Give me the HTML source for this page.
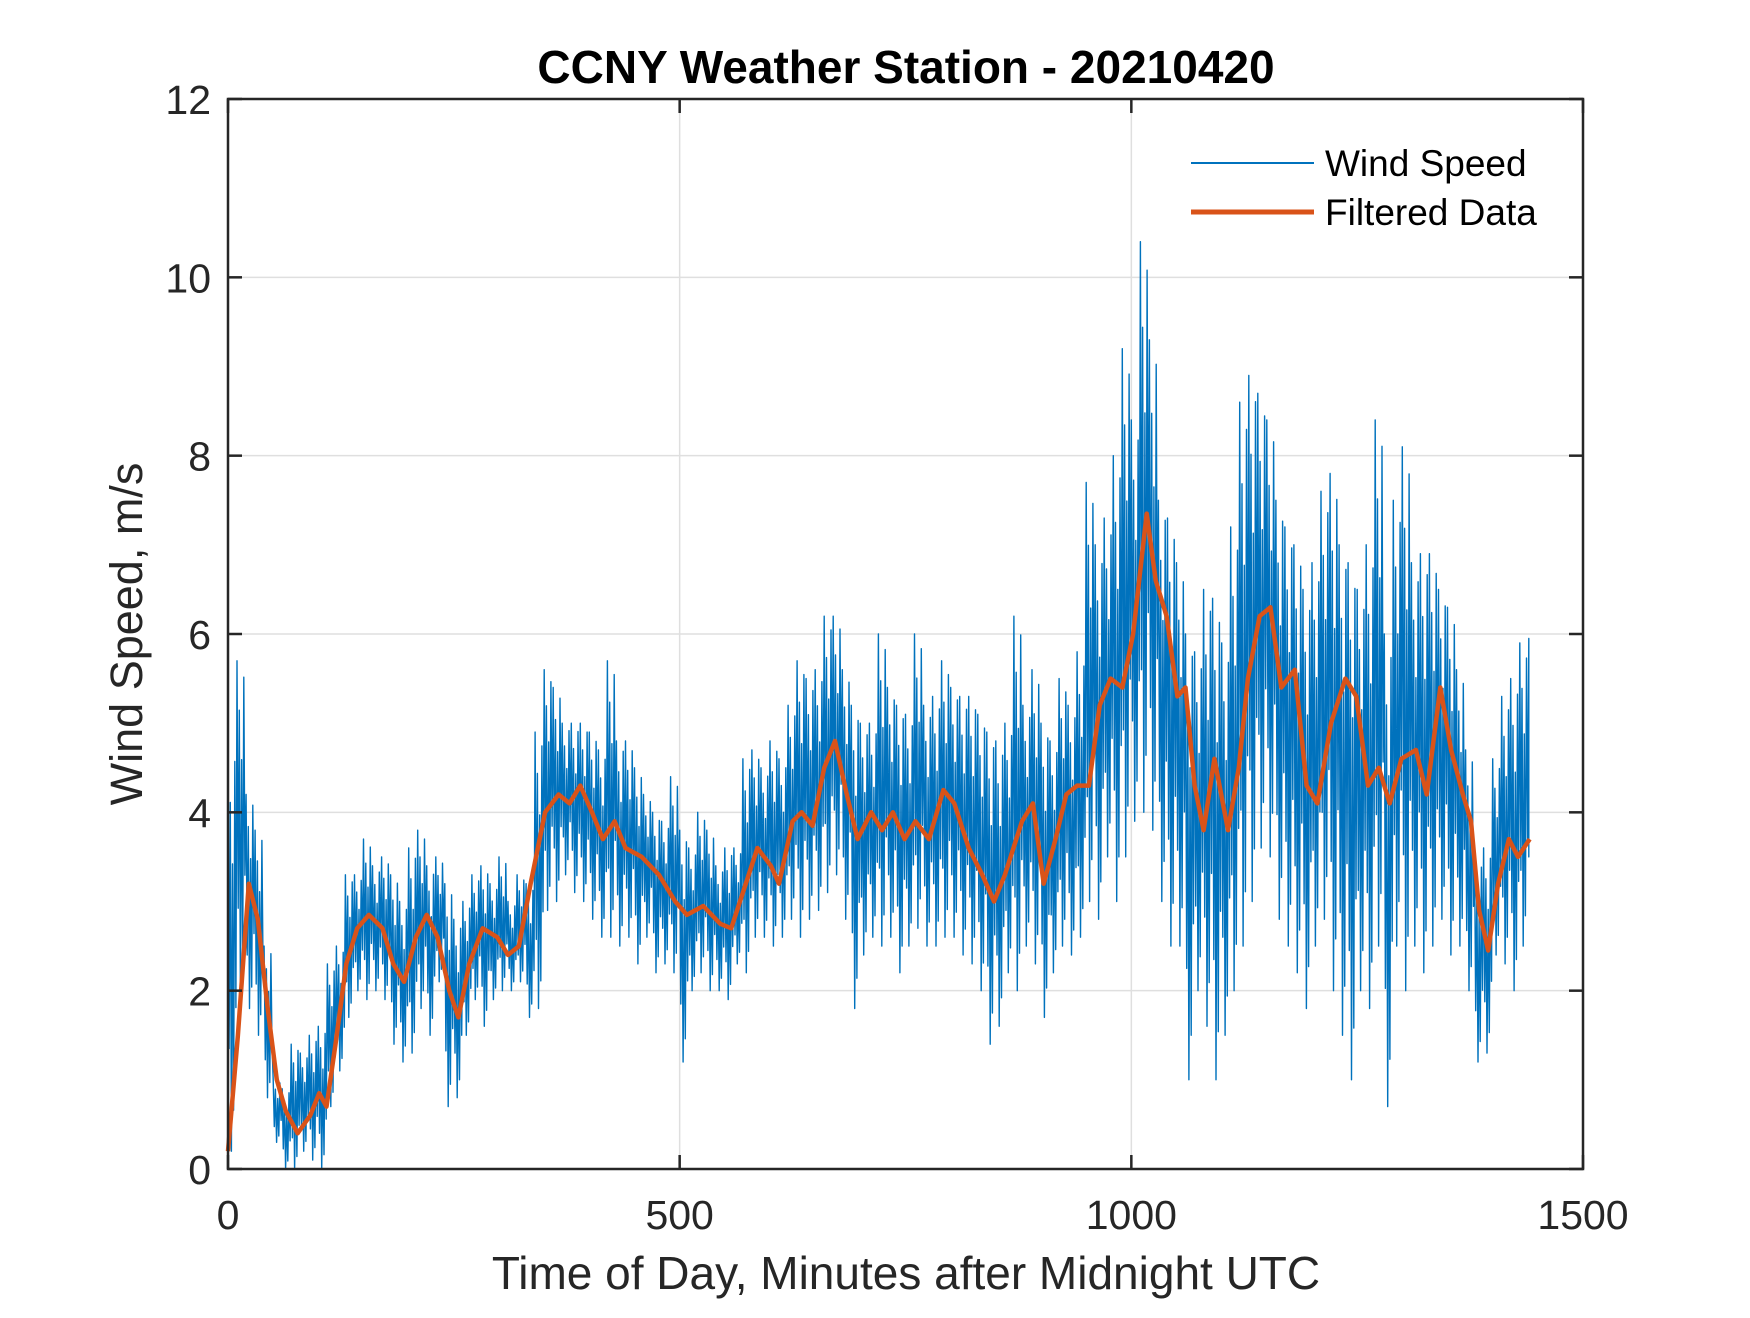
<!DOCTYPE html>
<html><head><meta charset="utf-8"><style>
body{margin:0;background:#fff}
svg text{font-family:"Liberation Sans",Arial,sans-serif;fill:#262626}
</style></head><body>
<svg id="chart" width="1750" height="1313" xmlns="http://www.w3.org/2000/svg">
<rect width="1750" height="1313" fill="#fff"/>
<g id="grid"></g>
<g id="series"></g>
<g id="axes"></g>
<text x="906" y="83" text-anchor="middle" font-size="46" font-weight="bold" style="fill:#000">CCNY Weather Station - 20210420</text>
<text x="906" y="1289" text-anchor="middle" font-size="46">Time of Day, Minutes after Midnight UTC</text>
<text transform="translate(142,634) rotate(-90)" text-anchor="middle" font-size="45">Wind Speed, m/s</text>
<g>
<line x1="1191" y1="163" x2="1314" y2="163" stroke="#0072BD" stroke-width="2"/>
<text x="1325" y="176" font-size="37" style="fill:#000">Wind Speed</text>
<line x1="1191" y1="212" x2="1314" y2="212" stroke="#D95319" stroke-width="5"/>
<text x="1325" y="225" font-size="37" style="fill:#000">Filtered Data</text>
</g>
</svg>
<script>
const xTicks=[0,500,1000,1500];
const yTicks=[0,2,4,6,8,10,12];
const windHi=[4.8,5.7,4.2,3.8,2.5,1.0,0.9,1.4,1.3,1.5,1.6,2.3,2.5,3.3,3.3,3.7,3.4,3.5,3.3,3.0,3.6,3.8,3.4,3.5,3.2,2.8,3.0,3.3,3.4,3.2,3.5,3.0,3.3,3.2,4.9,5.6,5.4,5.0,5.0,5.0,4.9,4.7,5.7,4.8,4.8,4.5,4.2,4.0,3.9,4.4,3.8,3.6,4.0,3.8,3.4,3.6,3.6,4.6,4.7,4.5,4.8,4.6,5.2,5.7,5.5,5.6,6.2,6.2,5.6,5.2,5.0,5.0,6.0,5.4,5.2,5.1,6.0,5.2,5.3,5.7,5.4,5.3,5.3,5.1,4.9,4.8,5.0,6.2,5.2,5.6,5.0,4.8,5.5,5.2,5.8,7.7,7.0,7.3,8.0,9.2,8.4,10.4,9.3,7.5,7.3,6.8,6.0,5.8,6.5,6.4,5.9,7.2,8.6,8.9,8.7,8.4,7.5,7.2,7.0,6.5,6.8,7.6,7.8,7.0,6.8,6.5,7.0,8.4,6.0,7.5,8.1,6.8,6.9,6.9,6.5,6.3,5.6,4.7,3.5,3.6,4.6,5.3,5.5,5.9,5.95];
const windLo=[0.2,2.0,1.8,1.5,0.8,0.3,0.0,0.0,0.2,0.1,0.0,0.7,1.1,1.7,2.0,1.9,2.0,1.9,1.4,1.2,1.3,1.8,1.5,2.1,0.7,0.8,1.5,1.9,1.6,1.9,2.0,2.0,2.1,1.7,1.8,2.9,3.0,3.3,3.1,3.0,2.8,2.6,2.6,2.5,2.6,2.3,2.6,2.2,2.3,2.2,1.2,2.0,2.2,2.0,2.0,1.9,2.3,2.2,2.6,2.6,2.5,2.6,2.8,2.6,2.8,2.9,3.1,3.3,2.8,1.8,2.4,2.6,2.5,2.6,2.2,2.5,2.7,2.5,2.5,2.6,2.6,2.4,2.3,2.0,1.4,1.6,2.2,2.0,2.5,2.3,1.7,2.2,2.5,2.4,2.6,3.0,2.8,3.5,3.0,3.5,3.9,4.0,3.8,3.0,2.5,2.5,1.0,2.0,1.6,1.0,1.5,2.0,2.5,3.0,3.6,3.5,2.8,2.5,2.2,1.8,2.5,2.8,2.0,1.5,1.0,2.0,1.8,2.5,0.7,2.5,2.0,2.5,2.2,2.5,2.8,2.4,2.5,2.0,1.2,1.3,2.4,2.3,2.0,2.5,3.5];
const filtT=[0,11,23,33,44,54,64,77,91,101,109,119,131,143,156,171,183,195,208,220,232,245,255,267,282,298,310,322,335,351,366,378,390,403,415,428,440,458,477,495,508,526,545,557,570,586,601,610,625,635,647,660,672,685,697,712,724,736,749,761,776,792,804,820,835,848,860,879,891,903,916,928,940,953,965,977,990,1002,1017,1027,1039,1051,1060,1070,1080,1092,1107,1119,1129,1142,1154,1166,1181,1194,1206,1221,1237,1249,1262,1274,1286,1299,1315,1327,1342,1354,1367,1376,1385,1395,1406,1418,1428,1441];
const filtV=[0.2,1.5,3.2,2.8,1.8,1.0,0.65,0.4,0.6,0.85,0.7,1.4,2.3,2.7,2.85,2.7,2.3,2.1,2.6,2.85,2.6,2.0,1.7,2.3,2.7,2.6,2.4,2.5,3.2,4.0,4.2,4.1,4.3,4.0,3.7,3.9,3.6,3.5,3.3,3.0,2.85,2.95,2.75,2.7,3.1,3.6,3.4,3.2,3.9,4.0,3.85,4.5,4.8,4.2,3.7,4.0,3.8,4.0,3.7,3.9,3.7,4.25,4.1,3.6,3.3,3.0,3.3,3.9,4.1,3.2,3.7,4.2,4.3,4.3,5.2,5.5,5.4,6.0,7.35,6.6,6.2,5.3,5.4,4.3,3.8,4.6,3.8,4.5,5.5,6.2,6.3,5.4,5.6,4.3,4.1,5.0,5.5,5.3,4.3,4.5,4.1,4.6,4.7,4.2,5.4,4.7,4.2,3.9,2.9,2.45,3.2,3.7,3.5,3.7];
const binW=10;

const L=228,R=1583,T=99,B=1169;
const sx=t=>L+(t-0)/(1500-0)*(R-L);
const sy=v=>B-(v-0)/(12-0)*(B-T);
const NS='http://www.w3.org/2000/svg';
function mk(tag,parent){const e=document.createElementNS(NS,tag);parent.appendChild(e);return e;}
const grid=document.getElementById('grid'),axes=document.getElementById('axes'),series=document.getElementById('series');

xTicks.forEach(t=>{
 const g=mk('line',grid);
 
 
 g.setAttribute('x1',sx(t));g.setAttribute('x2',sx(t));g.setAttribute('y1',T);g.setAttribute('y2',B);
 g.setAttribute('stroke','#dfdfdf');g.setAttribute('stroke-width','1.5');
 [[B,B-14],[T,T+14]].forEach(p=>{const k=mk('line',axes);
  
  
  k.setAttribute('x1',sx(t));k.setAttribute('x2',sx(t));k.setAttribute('y1',p[0]);k.setAttribute('y2',p[1]);k.setAttribute('stroke','#262626');k.setAttribute('stroke-width','2.5');});
 const tx=mk('text',axes);
 
 
 tx.setAttribute('x',sx(t));tx.setAttribute('y',1229);tx.setAttribute('text-anchor','middle');tx.setAttribute('font-size','41');tx.textContent=t;
});
yTicks.forEach(v=>{
 const g=mk('line',grid);
 
 
 g.setAttribute('x1',L);g.setAttribute('x2',R);g.setAttribute('y1',sy(v));g.setAttribute('y2',sy(v));
 g.setAttribute('stroke','#dfdfdf');g.setAttribute('stroke-width','1.5');
 [[L,L+14],[R,R-14]].forEach(p=>{const k=mk('line',axes);
  
  
  k.setAttribute('x1',p[0]);k.setAttribute('x2',p[1]);k.setAttribute('y1',sy(v));k.setAttribute('y2',sy(v));k.setAttribute('stroke','#262626');k.setAttribute('stroke-width','2.5');});
 const tx=mk('text',axes);
 
 
 tx.setAttribute('x',211);tx.setAttribute('y',sy(v)+15);tx.setAttribute('text-anchor','end');tx.setAttribute('font-size','41');tx.textContent=v;
});
const frame=mk('rect',axes);


frame.setAttribute('x',L);frame.setAttribute('y',T);frame.setAttribute('width',R-L);frame.setAttribute('height',B-T);
frame.setAttribute('fill','none');frame.setAttribute('stroke','#262626');frame.setAttribute('stroke-width','2.5');

// wind speed: zigzag within each bin's hi/lo range
const pattern=[1,-0.5,0.7,-1,0.4,-0.8,0.9,-0.3];
let pts=[];
windHi.forEach((hi,i)=>{
 const lo=windLo[i],m=(hi+lo)/2,r=(hi-lo)/2,t=i*binW;
 pattern.forEach((f,j)=>{const tt=Math.min(t+j*binW/pattern.length,1440);pts.push(sx(tt).toFixed(1)+','+sy(m+f*r).toFixed(1));});
});
const wl=mk('polyline',series);


wl.setAttribute('points',pts.join(' '));
wl.setAttribute('fill','none');wl.setAttribute('stroke','#0072BD');wl.setAttribute('stroke-width','1.4');wl.setAttribute('stroke-linejoin','round');

const fl=mk('polyline',series);


fl.setAttribute('points',filtT.map((t,i)=>sx(t).toFixed(1)+','+sy(filtV[i]).toFixed(1)).join(' '));
fl.setAttribute('fill','none');fl.setAttribute('stroke','#D95319');fl.setAttribute('stroke-width','4.5');fl.setAttribute('stroke-linejoin','round');
</script>
</body></html>
